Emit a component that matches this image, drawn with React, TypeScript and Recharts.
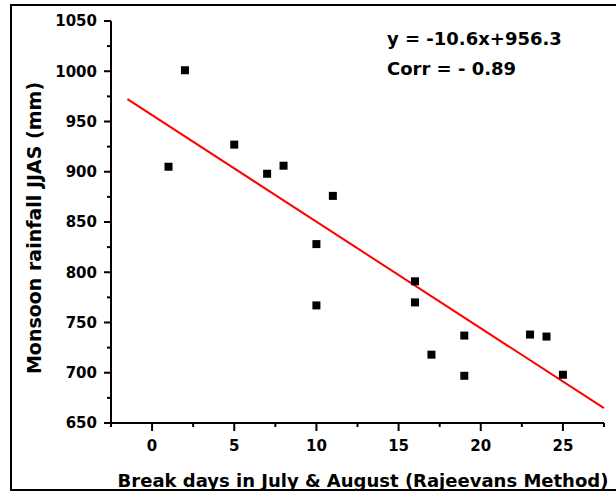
import { ScatterChart, Scatter, XAxis, YAxis, ReferenceLine } from 'recharts';

const breakDays = [1, 2, 5, 7, 8, 10, 10, 11, 16, 16, 17, 19, 19, 23, 24, 25];
const rainfall = [905, 1001, 927, 898, 906, 828, 767, 876, 791, 770, 718, 737, 697, 738, 736, 698];

const xTicks = [-2.5, 0, 2.5, 5, 7.5, 10, 12.5, 15, 17.5, 20, 22.5, 25, 27.5];
const xLabels = [0, 5, 10, 15, 20, 25];
const yTicks = [650, 675, 700, 725, 750, 775, 800, 825, 850, 875, 900, 925, 950, 975, 1000, 1025, 1050];
const yLabels = [650, 700, 750, 800, 850, 900, 950, 1000, 1050];

// regression from the figure
const slope = -10.6;
const intercept = 956.3;
const fitX = [-1.5, 27.5];

const points = breakDays.map((x, i) => ({ x, y: rainfall[i] }));
const fitSegment = fitX.map((x) => ({ x, y: slope * x + intercept }));

const FONT = '"DejaVu Sans", sans-serif';

function XTick({ x, y, payload }: any) {
  const major = xLabels.includes(payload.value);
  return (
    <g>
      <line x1={x} y1={y} x2={x} y2={y + (major ? 8 : 4)} stroke="#000" strokeWidth={2} />
      {major && (
        <text x={x} y={451} textAnchor="middle" fontFamily={FONT} fontWeight="bold" fontSize={15} fill="#000">
          {payload.value}
        </text>
      )}
    </g>
  );
}

function YTick({ x, y, payload }: any) {
  const major = yLabels.includes(payload.value);
  return (
    <g>
      <line x1={x} y1={y} x2={x - (major ? 7 : 4)} y2={y} stroke="#000" strokeWidth={2} />
      {major && (
        <text x={97} y={y} dy="0.36em" textAnchor="end" fontFamily={FONT} fontWeight="bold" fontSize={15} fill="#000">
          {payload.value}
        </text>
      )}
    </g>
  );
}

function Square({ cx, cy }: any) {
  return <rect x={cx - 4} y={cy - 4} width={8} height={8} fill="#000" />;
}

export default function App() {
  return (
    <div style={{ position: 'absolute', left: 0, top: 0, width: 616, height: 493, overflow: 'hidden', background: '#fff' }}>
      <div
        style={{
          position: 'absolute',
          left: 10,
          top: 4,
          width: 620,
          height: 487,
          border: '2px solid #000',
          boxSizing: 'border-box',
        }}
      />
      <div style={{ position: 'absolute', left: 0, top: 0 }}>
        <ScatterChart width={616} height={493} margin={{ top: 21, right: 12, left: 0, bottom: 0 }}>
          <XAxis
            type="number"
            dataKey="x"
            domain={[-2.5, 27.5]}
            ticks={xTicks}
            interval={0}
            allowDataOverflow
            height={70}
            tickSize={0}
            tickMargin={0}
            tickLine={false}
            tick={<XTick />}
            axisLine={{ stroke: '#000', strokeWidth: 2 }}
            label={{
              content: () => (
                <text x={363} y={487} textAnchor="middle" fontFamily={FONT} fontWeight="bold" fontSize={18} fill="#000">
                  Break days in July &amp; August (Rajeevans Method)
                </text>
              ),
            }}
          />
          <YAxis
            type="number"
            dataKey="y"
            domain={[650, 1050]}
            ticks={yTicks}
            interval={0}
            allowDataOverflow
            width={111}
            tickSize={0}
            tickMargin={0}
            tickLine={false}
            tick={<YTick />}
            axisLine={{ stroke: '#000', strokeWidth: 2 }}
            label={{
              content: () => (
                <text
                  x={41}
                  y={228}
                  transform="rotate(-90, 41, 228)"
                  textAnchor="middle"
                  fontFamily={FONT}
                  fontWeight="bold"
                  fontSize={19}
                  fill="#000"
                >
                  Monsoon rainfall JJAS (mm)
                </text>
              ),
            }}
          />
          <ReferenceLine segment={fitSegment} stroke="#ff0000" strokeWidth={2} />
          <Scatter data={points} shape={<Square />} isAnimationActive={false} />
          <text x={387} y={45} fontFamily={FONT} fontWeight="bold" fontSize={18} fill="#000">
            y = -10.6x+956.3
          </text>
          <text x={387} y={75} fontFamily={FONT} fontWeight="bold" fontSize={18} fill="#000">
            Corr = - 0.89
          </text>
        </ScatterChart>
      </div>
    </div>
  );
}
